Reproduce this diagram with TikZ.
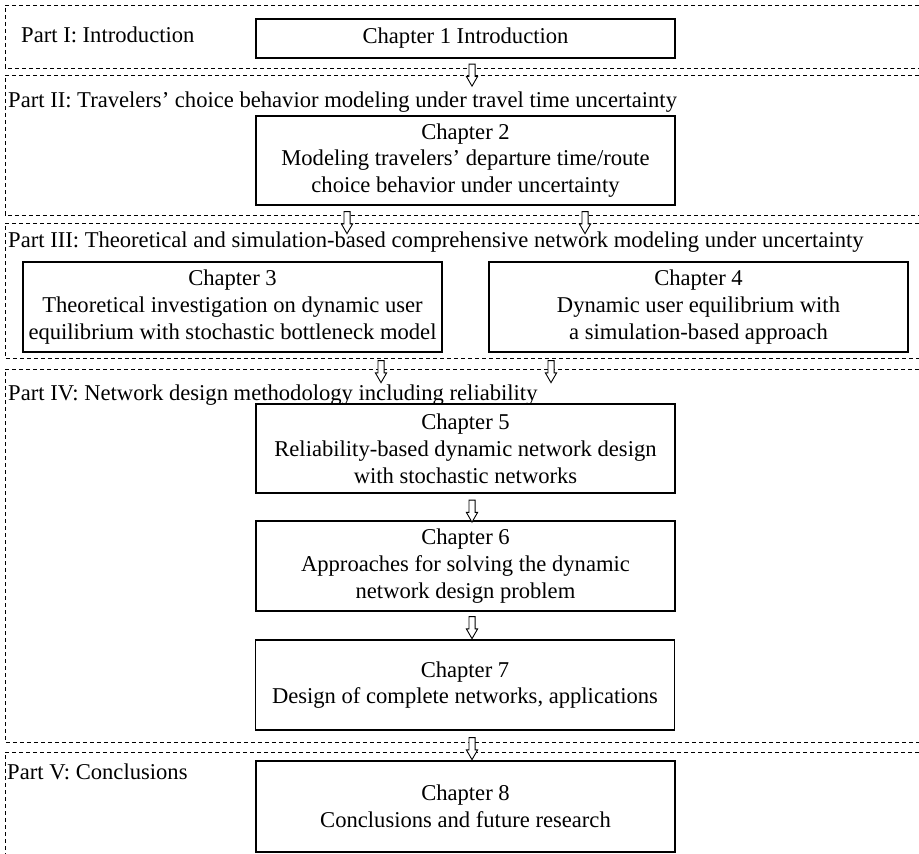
\documentclass[tikz,border=0pt]{standalone}
\usepackage{fontspec}
\setmainfont{Liberation Serif}
\usetikzlibrary{shapes.arrows}
\begin{document}
\begin{tikzpicture}[x=1pt,y=-1pt,
  chap/.style={draw, line width=1.2pt, inner sep=0pt, align=center, minimum width=419pt,
    font=\fontsize{22.6}{26.8}\selectfont},
  partlabel/.style={anchor=base west, inner sep=0pt, font=\fontsize{22.6}{26.8}\selectfont},
  partline/.style={dashed, dash pattern=on 4.3pt off 2.7pt, line width=1pt},
  darr/.style={shape=single arrow, draw, line width=0.9pt, fill=white, rotate=-90,
    minimum height=22pt, inner xsep=0pt, inner ysep=2.6pt,
    single arrow head extend=2.6pt, single arrow tip angle=60, single arrow head indent=0pt}
]
\useasboundingbox (0,0) rectangle (919,854);
\fill[white] (0,0) rectangle (919,854);

% part frames
\draw[partline] (919,5) -| (5,68) -- (919,68);
\draw[partline] (919,75) -| (5,215) -- (919,215);
\draw[partline] (919,223) -| (5,358) -- (919,358);
\draw[partline] (919,369) -| (5,742) -- (919,742);
\draw[partline] (919,752) -| (5,854);

% part labels
\node[partlabel] (p1) at (21,42) {Part I: Introduction};
\node[partlabel] (p2) at (8,107) {Part II: Travelers’ choice behavior modeling under travel time uncertainty};
\node[partlabel] (p3) at (8,247) {Part III: Theoretical and simulation-based comprehensive network modeling under uncertainty};
\node[partlabel] (p4) at (8,400) {Part IV: Network design methodology including reliability};
\node[partlabel] (p5) at (7,779) {Part V: Conclusions};

% chapters
\node[chap, minimum height=39pt] (ch1) at (465.5,38.5) {Chapter 1 Introduction};
\node[chap, minimum height=89pt] (ch2) at (465.5,160.5) {Chapter 2\\Modeling travelers’ departure time/route\\choice behavior under uncertainty};
\node[chap, minimum height=90pt] (ch3) at (232.5,307) {Chapter 3\\Theoretical investigation on dynamic user\\equilibrium with stochastic bottleneck model};
\node[chap, minimum height=90pt] (ch4) at (698.5,307) {Chapter 4\\Dynamic user equilibrium with\\a simulation-based approach};
\node[chap, minimum height=89pt] (ch5) at (465.5,448.5) {Chapter 5\\Reliability-based dynamic network design\\with stochastic networks};
\node[chap, minimum height=90pt] (ch6) at (465.5,566) {Chapter 6\\Approaches for solving the dynamic\\network design problem};
\node[chap, minimum height=90pt] (ch7) at (465,685) {Chapter 7\\Design of complete networks, applications};
\node[chap, minimum height=91pt] (ch8) at (465.5,806.5) {Chapter 8\\Conclusions and future research};

% arrows
\node[darr] (a1) at (472,72.5) {};
\node[darr] (a2) at (347,220) {};
\node[darr] (a3) at (585,220) {};
\node[darr] (a4) at (381,369) {};
\node[darr] (a5) at (551,369) {};
\node[darr] (a6) at (472,508.5) {};
\node[darr] (a7) at (472,625) {};
\node[darr] (a8) at (472,746) {};
\end{tikzpicture}
\end{document}
